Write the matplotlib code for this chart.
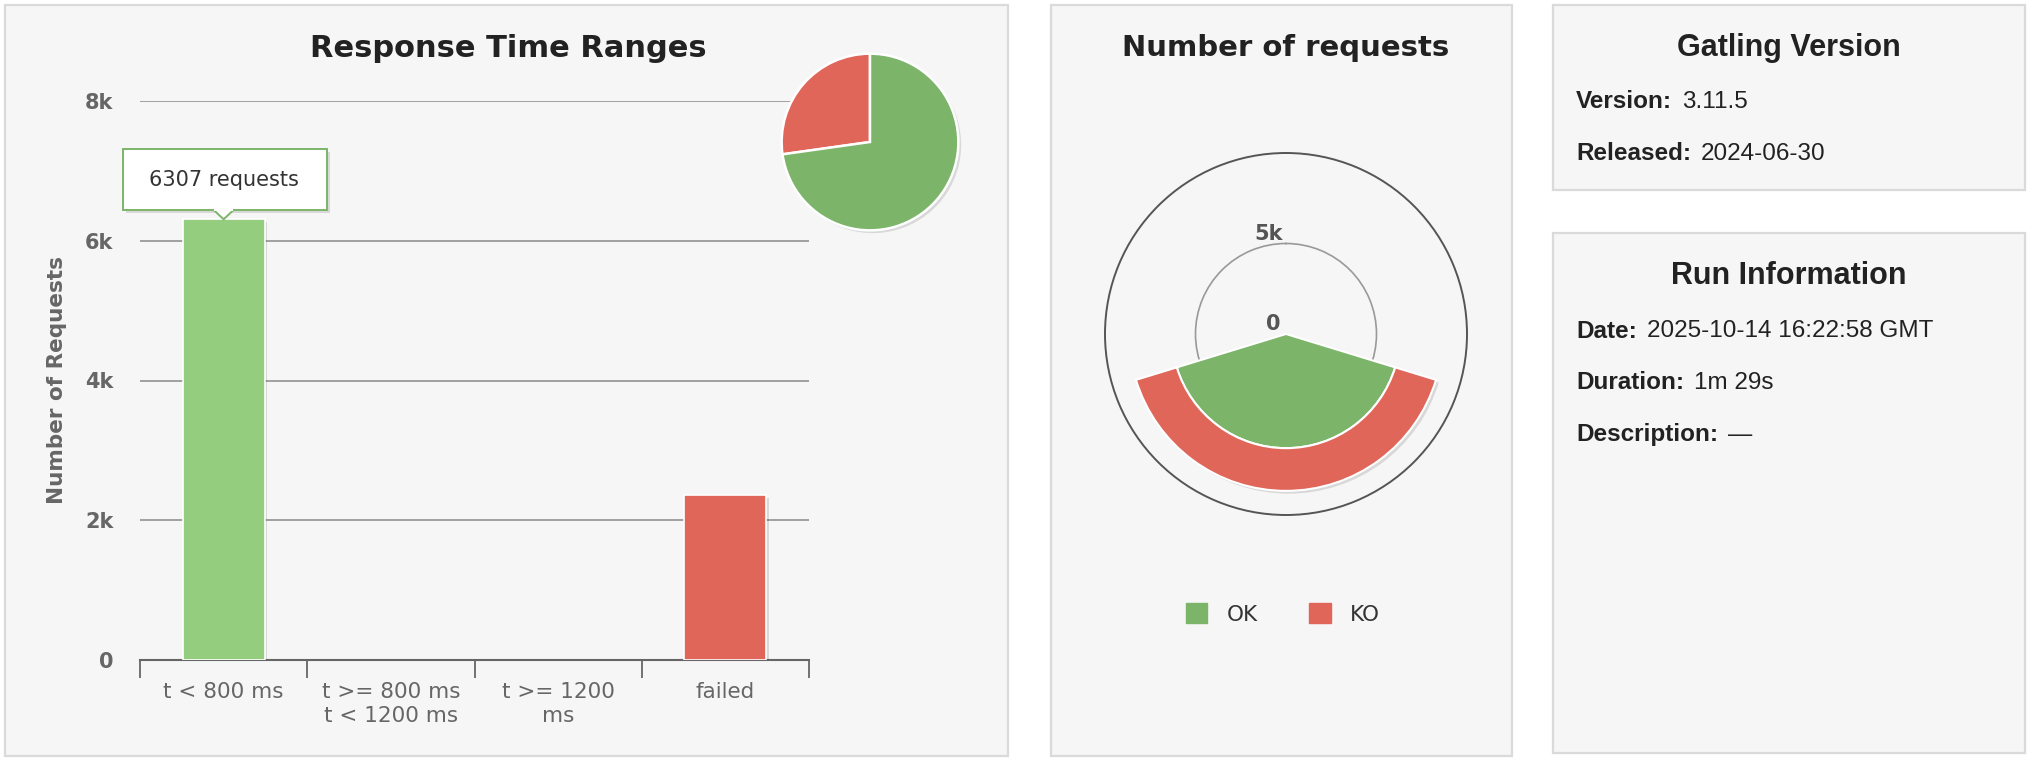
import numpy as np
import matplotlib
matplotlib.use("Agg")
import matplotlib.pyplot as plt
from matplotlib.patches import Rectangle, Polygon, Patch
import matplotlib.patheffects as pe

# data
categories = ["t < 800 ms", "t >= 800 ms\nt < 1200 ms", "t >= 1200\nms", "failed"]
range_counts = [6307, 0, 0, 2360]
range_colors = ["#94cd7e", "#f0b44c", "#e7845a", "#e0665a"]
ok_count = 6307
ko_count = 2360
y_ticks = [0, 2000, 4000, 6000, 8000]
y_ticklabels = ["0", "2k", "4k", "6k", "8k"]
gatling_info = [("Version:", "3.11.5"), ("Released:", "2024-06-30")]
run_info = [("Date:", "2025-10-14 16:22:58 GMT"), ("Duration:", "1m 29s"), ("Description:", "\u2014")]

GREEN = "#7cb46a"
RED = "#e0665a"
W, H = 2030, 760

fig = plt.figure(figsize=(W / 100, H / 100), dpi=100)
fig.patch.set_facecolor("white")


def box(x0, y0, x1, y1):
    return [x0 / W, 1 - y1 / H, (x1 - x0) / W, (y1 - y0) / H]


def panel(x0, y0, x1, y1):
    b = box(x0, y0, x1, y1)
    fig.add_artist(Rectangle((b[0], b[1]), b[2], b[3], transform=fig.transFigure,
                             facecolor="#f6f6f6", edgecolor="#dadada", lw=1.6, zorder=0))


panel(5, 5, 1008, 756)
panel(1051, 5, 1512, 756)
panel(1553, 5, 2025, 190)
panel(1553, 233, 2025, 753)

narrow = ["Liberation Sans Narrow", "DejaVu Sans"]
shadow = [pe.SimplePatchShadow(offset=(2, -2), shadow_rgbFace="#000000", alpha=0.12), pe.Normal()]

# --- response time ranges ---
ax = fig.add_axes(box(140, 101, 809, 660))
ax.set_facecolor("none")
x = np.arange(len(categories))
bars = ax.bar(x, range_counts, width=0.49, color=range_colors, edgecolor="white", lw=1.2, zorder=3)
for b, v in zip(bars, range_counts):
    if v == 0:
        b.set_visible(False)
    else:
        b.set_path_effects(shadow)
ax.set_xlim(-0.5, len(categories) - 0.5)
ax.set_ylim(0, 8000)
ax.set_yticks(y_ticks)
ax.set_yticklabels(y_ticklabels, fontsize=15, color="#666666", fontweight="bold", family=narrow)
ax.grid(axis="y", color="#999999", lw=1.3, zorder=1)
ax.tick_params(axis="y", length=0, pad=19)
ax.set_xticks(x)
ax.set_xticklabels(categories, fontsize=15.5, color="#666666", family=narrow, linespacing=1.25)
ax.tick_params(axis="x", length=0, pad=16)
ax.set_xticks(np.arange(len(categories) + 1) - 0.5, minor=True)
ax.tick_params(axis="x", which="minor", length=13, width=1.3, color="#666666")
for s in ["top", "right", "left"]:
    ax.spines[s].set_visible(False)
ax.spines["bottom"].set_color("#666666")
ax.spines["bottom"].set_linewidth(1.5)
ax.set_ylabel("Number of Requests", fontsize=15.5, color="#666666", fontweight="bold", labelpad=13)
ax.set_title("Response Time Ranges", fontsize=22, fontweight="bold", color="#222222",
             family=narrow, pad=32, x=0.55)

# tooltip on first bar
tip_top = ok_count + 1000
tip_bot = ok_count + 130
ax.add_patch(Rectangle((-0.60, tip_bot), 1.22, tip_top - tip_bot, facecolor="white",
                       edgecolor=GREEN, lw=1.4, zorder=5, path_effects=shadow, clip_on=False))
ax.add_patch(Polygon([(-0.06, tip_bot + 5), (0.06, tip_bot + 5), (0, ok_count)], closed=True,
                     facecolor="white", edgecolor=GREEN, lw=1.4, zorder=6, clip_on=False))
ax.add_patch(Rectangle((-0.055, tip_bot - 10), 0.11, 40, facecolor="white", edgecolor="none",
                       zorder=7, clip_on=False))
ax.text(0.0, (tip_top + tip_bot) / 2, "6307 requests", ha="center", va="center",
        fontsize=15, color="#333333", family=narrow, zorder=8)

# mini pie
pax = fig.add_axes(box(779, 51, 961, 233))
wedges, _ = pax.pie([ko_count, ok_count], colors=[RED, GREEN], startangle=90, counterclock=True,
                    wedgeprops=dict(edgecolor="white", lw=1.8))
for w in wedges:
    w.set_path_effects(shadow)
pax.set_xlim(-1.03, 1.03)
pax.set_ylim(-1.03, 1.03)
pax.set_aspect("equal")

# --- number of requests (polar) ---
fig.text(1286 / W, 1 - 48 / H, "Number of requests", ha="center", va="center",
         fontsize=21, fontweight="bold", color="#222222")
rax = fig.add_axes(box(1105, 153, 1467, 515), projection="polar")
rax.set_facecolor("none")
rax.set_theta_zero_location("N")
rax.set_theta_direction(-1)
rax.set_ylim(0, 10000)
span = np.deg2rad(146)
rax.bar(np.pi, ok_count, width=span, bottom=0, color=GREEN, edgecolor="white", lw=1.5,
        zorder=3, path_effects=shadow)
rax.bar(np.pi, ko_count, width=span, bottom=ok_count, color=RED, edgecolor="white", lw=1.5,
        zorder=3, path_effects=shadow)
rax.set_xticks([])
rax.set_yticks([5000])
rax.set_yticklabels([])
rax.yaxis.grid(True, color="#999999", lw=1.2)
rax.spines["polar"].set_color("#555555")
rax.spines["polar"].set_linewidth(1.4)
rax.annotate("5k", (np.deg2rad(-11), 5000), xytext=(0, 8), textcoords="offset points",
             ha="center", va="center", fontsize=15, fontweight="bold", color="#555555")
rax.annotate("0", (0, 0), xytext=(-9, 7), textcoords="offset points",
             ha="center", va="center", fontsize=15, fontweight="bold", color="#555555")

fig.legend(handles=[Patch(color=GREEN, label="OK"), Patch(color=RED, label="KO")],
           loc="center", bbox_to_anchor=(1283 / W, 1 - 614 / H), ncol=2, frameon=False,
           fontsize=15.5, handlelength=1.0, handleheight=1.0, columnspacing=2.4, handletextpad=0.9,
           labelcolor="#333333")

# --- info panels ---
arial = "Liberation Sans"
fig.text(1789 / W, 1 - 48 / H, "Gatling Version", ha="center", va="center",
         fontsize=22, fontweight="bold", color="#222222", family=arial)
fig.text(1789 / W, 1 - 276 / H, "Run Information", ha="center", va="center",
         fontsize=22, fontweight="bold", color="#222222", family=arial)


def info_lines(rows, y0, step):
    for i, (k, v) in enumerate(rows):
        t = fig.text(1576 / W, 1 - (y0 + i * step) / H, k, ha="left", va="center",
                     fontsize=17.5, fontweight="bold", color="#222222", family=arial)
        fig.canvas.draw()
        bb = t.get_window_extent()
        fig.text((bb.x1 + 10) / W, 1 - (y0 + i * step) / H, v, ha="left", va="center",
                 fontsize=17.5, color="#222222", family=arial)


info_lines(gatling_info, 102, 52)
info_lines(run_info, 331, 52)

fig.savefig("out.png", dpi=100, facecolor="white")
